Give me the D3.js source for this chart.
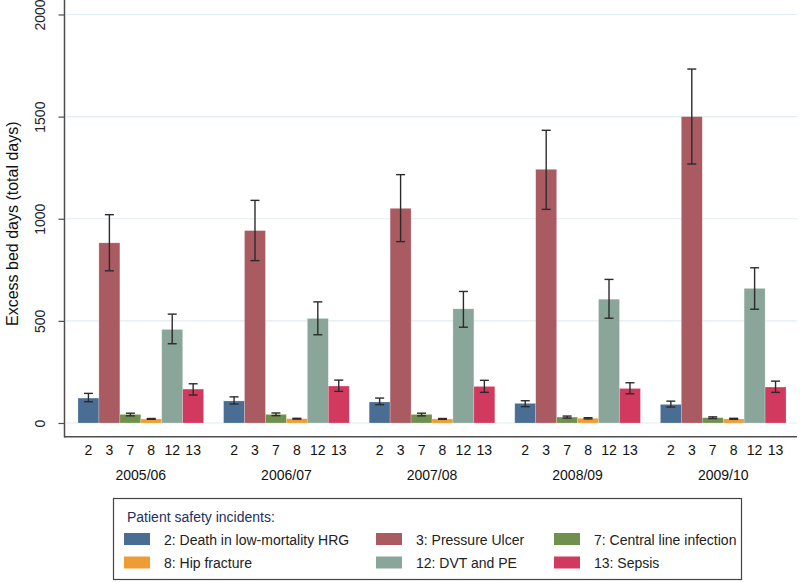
<!DOCTYPE html>
<html>
<head>
<meta charset="utf-8">
<script src="https://cdn.jsdelivr.net/npm/d3@7"></script>
<style>
  body { margin: 0; background: #fff; }
  text { font-family: "Liberation Sans", Arial, sans-serif; }
</style>
</head>
<body>
<div id="chart"></div>
<script>
const years = ['2005/06', '2006/07', '2007/08', '2008/09', '2009/10'];
const incidents = ['2', '3', '7', '8', '12', '13'];
const incidentNames = [
    '2: Death in low-mortality HRG', '3: Pressure Ulcer', '7: Central line infection',
    '8: Hip fracture', '12: DVT and PE', '13: Sepsis'
];
const yTicks = [0, 500, 1000, 1500, 2000];

// mean excess bed days, per incident, one value per year
const mean2 = [122, 108, 103, 96, 91];
const mean3 = [882, 942, 1051, 1242, 1500];
const mean7 = [42, 42, 42, 29, 26];
const mean8 = [20, 21, 20, 23, 20];
const mean12 = [458, 512, 559, 606, 659];
const mean13 = [166, 181, 179, 169, 176];

// confidence intervals
const lo2 = [104, 93, 90, 80, 78], hi2 = [145, 128, 122, 109, 107];
const lo3 = [745, 795, 888, 1046, 1268], hi3 = [1020, 1090, 1216, 1433, 1733];
const lo7 = [35, 36, 35, 24, 22], hi7 = [48, 49, 48, 34, 30];
const lo8 = [18, 19, 18, 20, 18], hi8 = [22, 23, 22, 26, 23];
const lo12 = [388, 432, 469, 513, 557], hi12 = [533, 593, 644, 703, 760];
const lo13 = [137, 155, 150, 143, 150], hi13 = [192, 210, 209, 197, 205];

const means = [mean2, mean3, mean7, mean8, mean12, mean13];
const lows = [lo2, lo3, lo7, lo8, lo12, lo13];
const highs = [hi2, hi3, hi7, hi8, hi12, hi13];

const color = d3.scaleOrdinal(incidents,
    ['#4a6e93', '#a95b61', '#70904e', '#ef9c34', '#8aa59a', '#d13a5e']);

const width = 800, height = 582;

const rows = [];
years.forEach((yr, i) => {
    incidents.forEach((inc, j) => {
        rows.push({ year: yr, inc: inc, value: means[j][i], lo: lows[j][i], hi: highs[j][i] });
    });
});

const svg = d3.select('#chart')
    .append('svg')
    .attr('width', width)
    .attr('height', height);

const x0 = d3.scaleBand()
    .domain(years)
    .range([68, 796])
    .paddingInner(0.137)
    .paddingOuter(0.0685);

const x1 = d3.scaleBand()
    .domain(incidents)
    .range([0, x0.bandwidth()]);

const y = d3.scaleLinear()
    .domain([0, 2000])
    .range([423, 14.5]);

// gridlines
svg.append('g')
    .selectAll('line')
    .data(yTicks)
    .join('line')
    .attr('x1', 66)
    .attr('x2', 797)
    .attr('y1', d => y(d))
    .attr('y2', d => y(d))
    .attr('stroke', '#e2edf1')
    .attr('stroke-width', 1.2);

// bars
svg.append('g')
    .selectAll('rect')
    .data(rows)
    .join('rect')
    .attr('x', d => x0(d.year) + x1(d.inc))
    .attr('y', d => y(d.value))
    .attr('width', x1.bandwidth())
    .attr('height', d => y(0) - y(d.value))
    .attr('fill', d => color(d.inc))
    .attr('stroke', 'rgba(255,255,255,0.35)')
    .attr('stroke-width', 0.6);

// error bars
const err = svg.append('g')
    .attr('stroke', '#2b2b2b')
    .attr('stroke-width', 1.4)
    .selectAll('g')
    .data(rows)
    .join('g')
    .attr('transform', d => `translate(${x0(d.year) + x1(d.inc) + x1.bandwidth() / 2},0)`);

err.append('line')
    .attr('y1', d => y(d.lo))
    .attr('y2', d => y(d.hi));
err.append('line')
    .attr('x1', -4.5).attr('x2', 4.5)
    .attr('y1', d => y(d.lo)).attr('y2', d => y(d.lo));
err.append('line')
    .attr('x1', -4.5).attr('x2', 4.5)
    .attr('y1', d => y(d.hi)).attr('y2', d => y(d.hi));

// y axis
const yAxis = svg.append('g')
    .attr('transform', 'translate(64.5,0)')
    .call(d3.axisLeft(y).tickValues(yTicks).tickFormat(d3.format('d')).tickSize(6).tickSizeOuter(0));
yAxis.select('.domain').remove();
yAxis.append('line')
    .attr('y1', 0).attr('y2', 437.5)
    .attr('stroke', '#4d4d4d').attr('stroke-width', 1.5);
yAxis.selectAll('.tick line').attr('stroke', '#4d4d4d').attr('stroke-width', 1.2);
yAxis.selectAll('.tick text')
    .attr('transform', 'rotate(-90)')
    .attr('x', 0)
    .attr('y', -20)
    .attr('dy', 0)
    .attr('text-anchor', 'middle')
    .style('font-size', '14px')
    .attr('fill', '#222');

svg.append('text')
    .attr('transform', `translate(12,${y(1000) + 5}) rotate(-90)`)
    .attr('text-anchor', 'middle')
    .attr('dy', '0.35em')
    .style('font-size', '16px')
    .attr('fill', '#111')
    .text('Excess bed days (total days)');

// x axis line
svg.append('line')
    .attr('x1', 64).attr('x2', 797)
    .attr('y1', 436.8).attr('y2', 436.8)
    .attr('stroke', '#4d4d4d').attr('stroke-width', 1.5);

// incident labels under each bar
svg.append('g')
    .selectAll('text')
    .data(rows)
    .join('text')
    .attr('x', d => x0(d.year) + x1(d.inc) + x1.bandwidth() / 2)
    .attr('y', 455)
    .attr('text-anchor', 'middle')
    .style('font-size', '14px')
    .attr('fill', '#111')
    .text(d => d.inc);

// year labels
svg.append('g')
    .selectAll('text')
    .data(years)
    .join('text')
    .attr('x', d => x0(d) + x0.bandwidth() / 2)
    .attr('y', 480)
    .attr('text-anchor', 'middle')
    .style('font-size', '14px')
    .attr('fill', '#111')
    .text(d => d);

// legend
const legend = svg.append('g');
legend.append('rect')
    .attr('x', 113.5).attr('y', 498.5)
    .attr('width', 628).attr('height', 81)
    .attr('fill', '#fff')
    .attr('stroke', '#444')
    .attr('stroke-width', 1.2);
legend.append('text')
    .attr('x', 127).attr('y', 522)
    .style('font-size', '14px')
    .attr('fill', '#1e2f63')
    .text('Patient safety incidents:');

const colX = [124, 376, 554];
const item = legend.selectAll('.item')
    .data(incidents)
    .join('g')
    .attr('class', 'item')
    .attr('transform', (d, i) => `translate(${colX[i % 3]},${533 + Math.floor(i / 3) * 23.5})`);
item.append('rect')
    .attr('width', 26).attr('height', 12)
    .attr('fill', d => color(d));
item.append('text')
    .attr('x', 40).attr('y', 11.5)
    .style('font-size', '14px')
    .attr('fill', '#222')
    .text((d, i) => incidentNames[i]);
</script>
</body>
</html>
